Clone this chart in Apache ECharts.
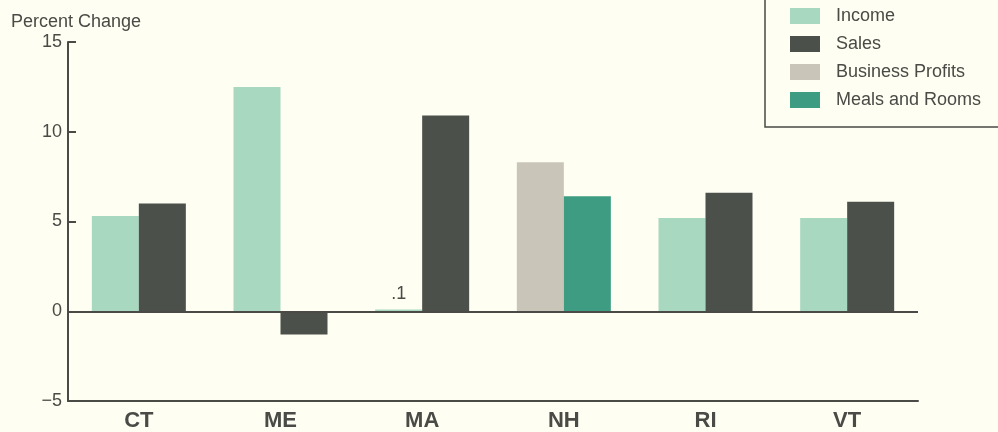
<!DOCTYPE html>
<html>
<head>
<meta charset="utf-8">
<script src="https://cdn.jsdelivr.net/npm/echarts@6/dist/echarts.min.js"></script>
<style>
  html, body { margin: 0; padding: 0; background: #fefef2; }
  #chart { width: 998px; height: 432px; }
</style>
</head>
<body>
<div id="chart"></div>
<script>
// States shown along the horizontal axis
const states = ['CT', 'ME', 'MA', 'NH', 'RI', 'VT'];

// Percent change by revenue source (null where a state has no bar for it)
const income   = [5.3, 12.5, 0.1, null, 5.2, 5.2];
const sales    = [6.0, -1.3, 10.9, null, 6.6, 6.1];
const profits  = [null, null, null, 8.3, null, null];
const meals    = [null, null, null, 6.4, null, null];

// Value axis range and step
const yMin = -5, yMax = 15, yStep = 5;

const FONT = '"Liberation Sans", Arial, Helvetica, sans-serif';
const AXIS = '#4a4a46';

const chart = echarts.init(document.getElementById('chart'), null, { renderer: 'canvas' });

// Bars share two slots per state: the left slot holds Income or Business Profits,
// the right slot holds Sales or Meals and Rooms.
function barSeries(name, data, stack, color, extra) {
  return Object.assign({
    name: name,
    type: 'bar',
    stack: stack,
    data: data,
    barWidth: 47,
    barGap: '0%',
    itemStyle: { color: color },
    emphasis: { disabled: true }
  }, extra || {});
}

chart.setOption({
  backgroundColor: '#fefef2',
  animation: false,
  textStyle: { fontFamily: FONT },
  grid: { left: 68, right: 80, top: 42, bottom: 31 },
  title: {
    text: 'Percent Change',
    left: 6, top: 8,
    textStyle: { fontFamily: FONT, fontSize: 18, fontWeight: 'normal', color: '#4a4a46' }
  },
  legend: {
    orient: 'vertical',
    left: 785, top: 2,
    itemWidth: 30, itemHeight: 16, itemGap: 10,
    icon: 'rect',
    selectedMode: false,
    data: ['Income', 'Sales', 'Business Profits', 'Meals and Rooms'],
    textStyle: { fontFamily: FONT, fontSize: 18, color: '#4a4a46', padding: [0, 0, 0, 11] }
  },
  xAxis: {
    type: 'category',
    data: states,
    axisLine: { onZero: false, lineStyle: { color: AXIS, width: 2 } },
    axisTick: { show: false },
    axisLabel: { fontFamily: FONT, fontSize: 22, fontWeight: 'bold', color: '#4a4a46', margin: 9 }
  },
  yAxis: {
    type: 'value',
    min: yMin, max: yMax, interval: yStep,
    splitLine: { show: false },
    axisLine: { show: true, lineStyle: { color: AXIS, width: 2 } },
    axisTick: { show: true, inside: true, length: 8, lineStyle: { color: AXIS, width: 2 } },
    axisLabel: {
      fontFamily: FONT, fontSize: 18, color: '#4a4a46', margin: 6,
      formatter: v => String(v).replace('-', '\u2212')
    }
  },
  series: [
    barSeries('Income', income, 'left', '#a9d8c0', {
      label: {
        show: true, position: 'top', distance: 6,
        fontFamily: FONT, fontSize: 18, color: '#4a4a46',
        formatter: p => (p.dataIndex === 2 ? String(p.value).replace(/^0/, '') : '')
      },
      markLine: {
        silent: true, symbol: 'none', animation: false,
        label: { show: false },
        lineStyle: { color: AXIS, width: 2, type: 'solid' },
        data: [{ yAxis: 0 }]
      }
    }),
    barSeries('Sales', sales, 'right', '#4b504b'),
    barSeries('Business Profits', profits, 'left', '#c9c5b8'),
    barSeries('Meals and Rooms', meals, 'right', '#3d9c82')
  ],
  graphic: [{
    type: 'rect',
    silent: true,
    shape: { x: 765, y: -10, width: 260, height: 137 },
    style: { fill: 'none', stroke: '#4a4a46', lineWidth: 1.5 }
  }]
});
</script>
</body>
</html>
